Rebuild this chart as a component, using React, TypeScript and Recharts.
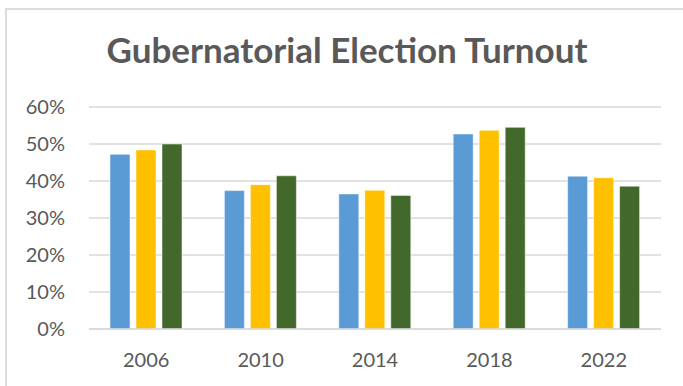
import { BarChart, Bar, XAxis, YAxis, CartesianGrid } from "recharts";

const years = ["2006", "2010", "2014", "2018", "2022"];
const seriesA = [0.472, 0.374, 0.365, 0.527, 0.413];
const seriesB = [0.484, 0.39, 0.375, 0.537, 0.409];
const seriesC = [0.5, 0.414, 0.361, 0.545, 0.386];
const yTicks = [0, 0.1, 0.2, 0.3, 0.4, 0.5, 0.6];

const data = years.map((year, i) => ({
  year,
  a: seriesA[i],
  b: seriesB[i],
  c: seriesC[i],
}));

const font = "Lato, 'Open Sans', sans-serif";

export default function App() {
  return (
    <div
      style={{
        position: "absolute",
        left: 0,
        top: 0,
        width: 683,
        height: 386,
        background: "#fff",
        overflow: "hidden",
        fontFamily: font,
      }}
    >
      <div
        style={{
          position: "absolute",
          left: 5,
          top: 8,
          width: 700,
          height: 400,
          borderTop: "2px solid #dcdcdc",
          borderLeft: "2px solid #dcdcdc",
        }}
      />
      <div
        style={{
          position: "absolute",
          left: 0,
          top: 28,
          width: 694,
          textAlign: "center",
          fontSize: 35,
          lineHeight: 1.2,
          fontWeight: 700,
          color: "#595959",
          whiteSpace: "nowrap",
        }}
      >
        Gubernatorial Election Turnout
      </div>
      <BarChart
        width={683}
        height={386}
        data={data}
        margin={{ top: 107, right: 22, left: 0, bottom: 27 }}
        barSize={20}
        barGap={6}
        style={{ position: "absolute", left: 0, top: 0 }}
      >
        <CartesianGrid vertical={false} stroke="#d9d9d9" strokeWidth={1.5} />
        <XAxis
          dataKey="year"
          height={30}
          axisLine={{ stroke: "#d9d9d9", strokeWidth: 1.5 }}
          tickLine={false}
          tick={{ fill: "#595959", fontSize: 20, fontFamily: font }}
          dy={16}
        />
        <YAxis
          width={89}
          domain={[0, 0.6]}
          ticks={yTicks}
          axisLine={false}
          tickLine={false}
          tickFormatter={(v: number) => `${Math.round(v * 100)}%`}
          tick={{ fill: "#595959", fontSize: 20, fontFamily: font }}
          dx={-16}
        />
        <Bar dataKey="a" fill="#5b9bd5" stroke="#ffffff" strokeWidth={0.5} isAnimationActive={false} />
        <Bar dataKey="b" fill="#ffc000" stroke="#ffffff" strokeWidth={0.5} isAnimationActive={false} />
        <Bar dataKey="c" fill="#43682b" stroke="#ffffff" strokeWidth={0.5} isAnimationActive={false} />
      </BarChart>
    </div>
  );
}
